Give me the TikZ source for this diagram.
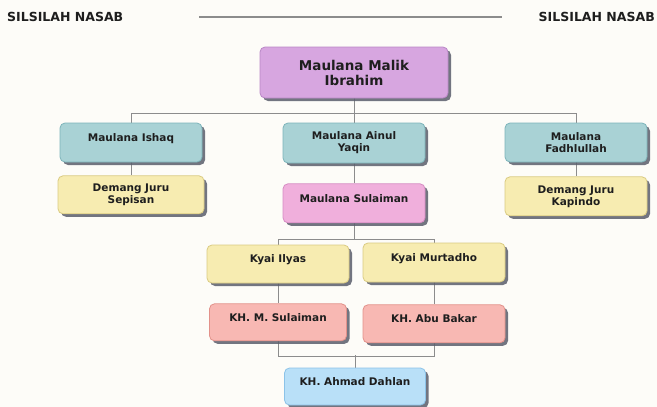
\documentclass[tikz,border=0pt]{standalone}
\usepackage{fontspec}
\setmainfont{DejaVu Sans}
\usetikzlibrary{positioning,shadows,backgrounds}
\definecolor{bgcream}{RGB}{253,252,248}
\definecolor{rootfill}{RGB}{215,166,224}
\definecolor{rootline}{RGB}{185,135,198}
\definecolor{tealfill}{RGB}{169,210,213}
\definecolor{tealline}{RGB}{125,180,186}
\definecolor{yellowfill}{RGB}{247,236,177}
\definecolor{yellowline}{RGB}{218,203,130}
\definecolor{pinkfill}{RGB}{240,175,220}
\definecolor{pinkline}{RGB}{214,140,195}
\definecolor{salmonfill}{RGB}{248,184,179}
\definecolor{salmonline}{RGB}{226,145,138}
\definecolor{bluefill}{RGB}{185,224,248}
\definecolor{blueline}{RGB}{140,195,232}
\definecolor{shadowgray}{RGB}{90,94,108}
\definecolor{linkgray}{RGB}{140,140,140}
\definecolor{textdark}{RGB}{30,30,30}

\begin{document}
\begin{tikzpicture}[x=1pt, y=1pt,
    person/.style={draw, rounded corners=5pt, line width=0.8pt, align=center, text=textdark,
      font=\fontsize{10.5}{12}\selectfont\bfseries, minimum width=142pt, minimum height=39pt,
      inner sep=2pt, drop shadow={shadow xshift=3pt, shadow yshift=-3pt, fill=shadowgray, opacity=0.85}},
    oneline/.style={text depth=10pt},
    link/.style={draw=linkgray, line width=0.9pt},
    header/.style={font=\fontsize{12.5}{14}\selectfont\bfseries, text=textdark, inner sep=0pt}]
    \useasboundingbox (0,0) rectangle (657,-407);

    % header
    \node[header, anchor=west] (titleleft) at (7,-17) {SILSILAH NASAB};
    \node[header, anchor=east] (titleright) at (655,-17) {SILSILAH NASAB};
    \coordinate (rulestart) at (199,-17);
    \coordinate (ruleend) at (502,-17);

    % generations
    \node[person, fill=rootfill, draw=rootline, minimum width=188pt, minimum height=51pt,
      font=\fontsize{13.5}{15}\selectfont\bfseries] (malik) at (354,-72.5) {Maulana Malik\\Ibrahim};

    \node[person, oneline, fill=tealfill, draw=tealline] (ishaq) at (131,-142.5) {Maulana Ishaq};
    \node[person, fill=tealfill, draw=tealline, minimum height=40pt] (ainul) at (354,-143) {Maulana Ainul\\Yaqin};
    \node[person, fill=tealfill, draw=tealline] (fadhl) at (576,-142.5) {Maulana\\Fadhlullah};

    \node[person, fill=yellowfill, draw=yellowline, minimum width=146pt, minimum height=38pt, below=13pt of ishaq] (sepisan) {Demang Juru\\Sepisan};
    \node[person, oneline, fill=pinkfill, draw=pinkline, below=20pt of ainul] (msulaiman) {Maulana Sulaiman};
    \node[person, fill=yellowfill, draw=yellowline, below=14pt of fadhl] (kapindo) {Demang Juru\\Kapindo};

    \node[person, oneline, fill=yellowfill, draw=yellowline, minimum height=38pt] (ilyas) at (278,-264) {Kyai Ilyas};
    \node[person, oneline, fill=yellowfill, draw=yellowline] (murtadho) at (434,-262.5) {Kyai Murtadho};

    \node[person, oneline, fill=salmonfill, draw=salmonline, minimum width=137pt, minimum height=37pt, below=20pt of ilyas] (khsulaiman) {KH. M. Sulaiman};
    \node[person, oneline, fill=salmonfill, draw=salmonline, minimum height=38pt, below=22pt of murtadho] (abubakar) {KH. Abu Bakar};

    \node[person, oneline, fill=bluefill, draw=blueline, minimum width=141pt, minimum height=37pt] (dahlan) at (355,-386.5) {KH. Ahmad Dahlan};

    \begin{scope}[on background layer]
      \fill[bgcream] (0,0) rectangle (657,-407);
      \draw[draw=linkgray, line width=1.2pt] (rulestart) -- (ruleend);
      % links
      \draw[link] (malik.south) -- ++(0,-15) -| (ishaq.north);
      \draw[link] (malik.south) -- ++(0,-15) -| (fadhl.north);
      \draw[link] (malik.south) -- (ainul.north);
      \draw[link] (ishaq) -- (sepisan);
      \draw[link] (fadhl) -- (kapindo);
      \draw[link] (ainul) -- (msulaiman);
      \draw[link] (msulaiman.south) -- ++(0,-16) -| (ilyas.north);
      \draw[link] (msulaiman.south) -- ++(0,-16) -| (murtadho.north);
      \draw[link] (ilyas) -- (khsulaiman);
      \draw[link] (murtadho) -- (abubakar);
      \draw[link] (khsulaiman.south) -- ++(0,-15) -| (abubakar.south);
      \draw[link] (dahlan.north) -- ++(0,13);
    \end{scope}
\end{tikzpicture}
\end{document}
